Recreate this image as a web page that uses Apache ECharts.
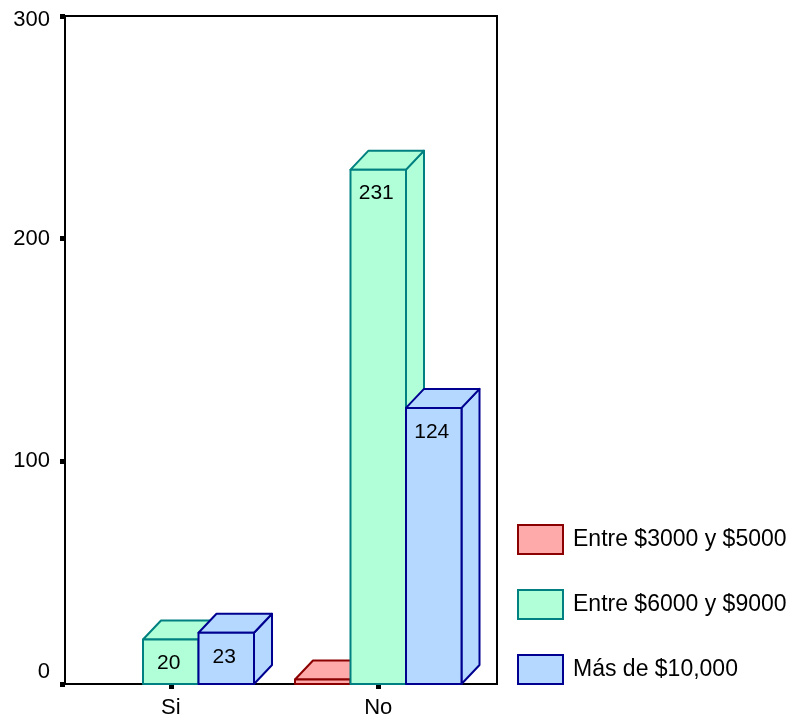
<!DOCTYPE html>
<html>
<head>
<meta charset="utf-8">
<script src="https://cdn.jsdelivr.net/npm/echarts@6/dist/echarts.min.js"></script>
<style>
  html, body { margin: 0; padding: 0; background: #fff; }
  #chart { width: 794px; height: 718px; }
</style>
</head>
<body>
<div id="chart"></div>
<script>
// Categories and counts per income bracket
const categories = ['Si', 'No'];
const seriesNames = ['Entre $3000 y $5000', 'Entre $6000 y $9000', 'Más de $10,000'];
const entre3000y5000 = [0, 2];
const entre6000y9000 = [20, 231];
const masDe10000 = [23, 124];
const yTicks = [0, 100, 200, 300];

const values = [entre3000y5000, entre6000y9000, masDe10000];
const fills = ['#FFAAAA', '#B0FFD8', '#B4D8FF'];
const strokes = ['#8B0000', '#008080', '#000090'];
const FONT = '"Liberation Sans", Arial, sans-serif';
const DX = 18, DY = 19;

// Each bar is drawn as a box: side face, top face, then front face
function makeRender(sIdx) {
  return function (params, api) {
    const cat = api.value(0);
    const v = api.value(1);
    if (!v) return null;
    const base = api.coord([cat, 0]);
    const top = api.coord([cat, v]);
    const band = api.size([1, 0])[0];
    const w = band * 0.2675;
    const x0 = base[0] + (sIdx - 1) * w - w / 2;
    const x1 = x0 + w;
    const y0 = top[1];
    const y1 = base[1];
    const style = { fill: fills[sIdx], stroke: strokes[sIdx], lineWidth: 2, lineJoin: 'round' };
    const children = [
      { type: 'polygon', shape: { points: [[x1, y1], [x1, y0], [x1 + DX, y0 - DY], [x1 + DX, y1 - DY]] }, style: style },
      { type: 'polygon', shape: { points: [[x0, y0], [x1, y0], [x1 + DX, y0 - DY], [x0 + DX, y0 - DY]] }, style: style },
      { type: 'rect', shape: { x: x0, y: y0, width: w, height: y1 - y0 }, style: style }
    ];
    if (y1 - y0 > 30) {
      children.push({
        type: 'text',
        style: {
          text: String(v), x: (x0 + x1) / 2 - 2, y: y0 + 24,
          align: 'center', verticalAlign: 'middle',
          font: '21px ' + FONT, fill: '#000'
        }
      });
    }
    return { type: 'group', children: children };
  };
}

const chart = echarts.init(document.getElementById('chart'), null, { renderer: 'canvas' });

const series = seriesNames.map(function (name, i) {
  return {
    type: 'custom',
    name: name,
    xAxisIndex: 1,
    yAxisIndex: 1,
    renderItem: makeRender(i),
    itemStyle: { color: fills[i], borderColor: strokes[i], borderWidth: 2 },
    encode: { x: 0, y: 1 },
    data: values[i].map(function (v, c) { return [c, v]; }),
    z: 3
  };
});

const labelText = { fontSize: 22, fontFamily: FONT, color: '#000' };

chart.setOption({
  animation: false,
  backgroundColor: '#fff',
  grid: [
    { left: 65, top: 16, right: 297, bottom: 34, outerBoundsMode: 'none', containLabel: false,
      show: true, borderColor: '#000', borderWidth: 2, backgroundColor: 'transparent' },
    { left: 67, top: 16, width: 415, bottom: 34, outerBoundsMode: 'none', containLabel: false }
  ],
  xAxis: [
    { gridIndex: 0, type: 'value', show: false },
    {
      gridIndex: 1, type: 'category', data: categories,
      axisLine: { show: false },
      axisTick: { show: true, alignWithLabel: true, length: 5, lineStyle: { color: '#000', width: 5 } },
      axisLabel: { fontSize: 22, fontFamily: FONT, color: '#000', margin: 13 }
    }
  ],
  yAxis: [
    {
      gridIndex: 0, type: 'value', min: yTicks[0], max: yTicks[yTicks.length - 1], interval: 100,
      splitLine: { show: false },
      axisLine: { show: true, lineStyle: { color: '#000', width: 2 } },
      axisTick: { show: true, length: 5, lineStyle: { color: '#000', width: 5 } },
      axisLabel: {
        fontSize: 22, fontFamily: FONT, color: '#000', margin: 15,
        formatter: function (v) {
          if (v === 0) return '{z|0}';
          if (v === 300) return '{t|300}';
          return '{n|' + v + '}';
        },
        rich: {
          z: Object.assign({ padding: [0, 0, 24, 0] }, labelText),
          t: Object.assign({ padding: [8, 0, 0, 0] }, labelText),
          n: Object.assign({}, labelText)
        }
      }
    },
    { gridIndex: 1, type: 'value', min: 0, max: 300, show: false }
  ],
  legend: {
    orient: 'vertical', left: 517, top: 524, padding: 0,
    itemWidth: 45, itemHeight: 29, itemGap: 34,
    icon: 'rect',
    textStyle: { fontSize: 23, fontFamily: FONT, color: '#000', padding: [0, 0, 0, 5] },
    data: seriesNames.map(function (n, i) {
      return { name: n, itemStyle: { color: fills[i], borderColor: strokes[i], borderWidth: 2 } };
    })
  },
  series: series
});
</script>
</body>
</html>
